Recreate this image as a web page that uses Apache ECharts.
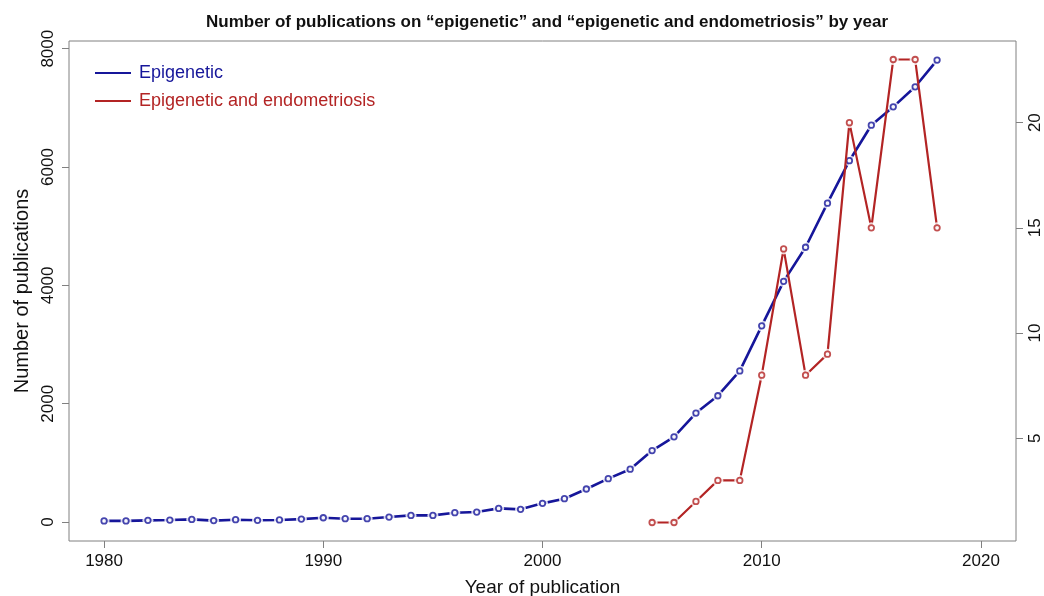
<!DOCTYPE html>
<html>
<head>
<meta charset="utf-8">
<script src="https://cdn.jsdelivr.net/npm/echarts@6/dist/echarts.min.js"></script>
<style>
  html, body { margin: 0; padding: 0; background: #ffffff; }
  #chart { width: 1044px; height: 596px; }
</style>
</head>
<body>
<div id="chart"></div>
<script>
// Publications per year
const years = [1980, 1981, 1982, 1983, 1984, 1985, 1986, 1987, 1988, 1989,
  1990, 1991, 1992, 1993, 1994, 1995, 1996, 1997, 1998, 1999,
  2000, 2001, 2002, 2003, 2004, 2005, 2006, 2007, 2008, 2009,
  2010, 2011, 2012, 2013, 2014, 2015, 2016, 2017, 2018];
const epigenetic = [20, 20, 29, 34, 45, 25, 40, 30, 36, 50,
  73, 57, 57, 85, 113, 113, 158, 169, 231, 215,
  316, 395, 559, 734, 893, 1208, 1440, 1842, 2135, 2554,
  3316, 4068, 4644, 5390, 6107, 6707, 7017, 7356, 7808];

const endoYears = [2005, 2006, 2007, 2008, 2009, 2010, 2011, 2012, 2013, 2014, 2015, 2016, 2017, 2018];
const endometriosis = [1, 1, 2, 3, 3, 8, 14, 8, 9, 20, 15, 23, 23, 15];

// Tick labels
const xTicks = [1980, 1990, 2000, 2010, 2020];
const leftTicks = [0, 2000, 4000, 6000, 8000];
const rightTicks = [5, 10, 15, 20];

const BLUE = '#16169a';
const RED = '#b32424';
const FRAME = '#808080';
const FONT = '"Liberation Sans", Arial, sans-serif';

const bluePts = years.map((y, i) => [y, epigenetic[i]]);
const redPts = endoYears.map((y, i) => [y, endometriosis[i]]);

// Line + white halo + ring marker, so each segment stops short of its points
function linePointSeries(name, pts, color, axis, width, zBase) {
  return [
    {
      name: name, type: 'line', data: pts, yAxisIndex: axis,
      showSymbol: false, color: color, z: zBase,
      lineStyle: { color: color, width: width }, silent: true
    },
    {
      name: name + ' gap', type: 'scatter', data: pts, yAxisIndex: axis,
      symbol: 'circle', symbolSize: 11, z: zBase + 1, silent: true,
      itemStyle: { color: '#ffffff' }
    },
    {
      name: name + ' point', type: 'scatter', data: pts, yAxisIndex: axis,
      symbol: 'circle', symbolSize: 5.5, z: zBase + 2, silent: true,
      itemStyle: { color: '#ffffff', borderColor: color, borderWidth: 1.8 }
    }
  ];
}

const plain = v => String(v);
const tickStyle = { show: true, inside: false, length: 7, lineStyle: { color: FRAME, width: 1 } };
const labelBase = { color: '#111', fontFamily: FONT, fontSize: 17, formatter: plain };

const chart = echarts.init(document.getElementById('chart'), null, { renderer: 'canvas' });
chart.setOption({
  backgroundColor: '#ffffff',
  animation: false,
  title: {
    text: 'Number of publications on \u201cepigenetic\u201d and \u201cepigenetic and endometriosis\u201d by year',
    left: 542, top: 9, textAlign: 'center',
    textStyle: { fontFamily: FONT, fontSize: 17, fontWeight: 'bold', color: '#111' }
  },
  grid: {
    left: 69, right: 28, top: 41, bottom: 55,
    outerBoundsMode: 'none', containLabel: false,
    show: true, borderColor: FRAME, borderWidth: 1, backgroundColor: 'transparent'
  },
  legend: {
    orient: 'vertical', left: 90, top: 59, selectedMode: false,
    icon: 'rect', itemWidth: 36, itemHeight: 2, itemGap: 10,
    data: [
      { name: 'Epigenetic', textStyle: { color: BLUE } },
      { name: 'Epigenetic and endometriosis', textStyle: { color: RED } }
    ],
    textStyle: { fontFamily: FONT, fontSize: 18, padding: [0, 0, 0, 3] }
  },
  xAxis: {
    type: 'value', min: 1978.4, max: 2021.6,
    name: 'Year of publication', nameLocation: 'middle', nameGap: 37,
    nameTextStyle: { fontFamily: FONT, fontSize: 19, color: '#111' },
    axisLine: { show: false, onZero: false },
    axisTick: Object.assign({ customValues: xTicks }, tickStyle),
    axisLabel: Object.assign({ customValues: xTicks, margin: 12 }, labelBase),
    splitLine: { show: false }
  },
  yAxis: [
    {
      type: 'value', min: -320, max: 8130, position: 'left',
      name: 'Number of publications', nameLocation: 'middle', nameGap: 37,
      nameTextStyle: { fontFamily: FONT, fontSize: 20, color: '#111' },
      axisLine: { show: false, onZero: false },
      axisTick: Object.assign({ customValues: leftTicks }, tickStyle),
      axisLabel: Object.assign({ customValues: leftTicks, rotate: 90, margin: 12 }, labelBase),
      splitLine: { show: false }
    },
    {
      type: 'value', min: 0.12, max: 23.88, position: 'right',
      axisLine: { show: false, onZero: false },
      axisTick: Object.assign({ customValues: rightTicks }, tickStyle),
      axisLabel: Object.assign({ customValues: rightTicks, rotate: 90, margin: 11 }, labelBase),
      splitLine: { show: false }
    }
  ],
  series: [].concat(
    linePointSeries('Epigenetic', bluePts, BLUE, 0, 2.6, 2),
    linePointSeries('Epigenetic and endometriosis', redPts, RED, 1, 2.2, 6)
  )
});
</script>
</body>
</html>
